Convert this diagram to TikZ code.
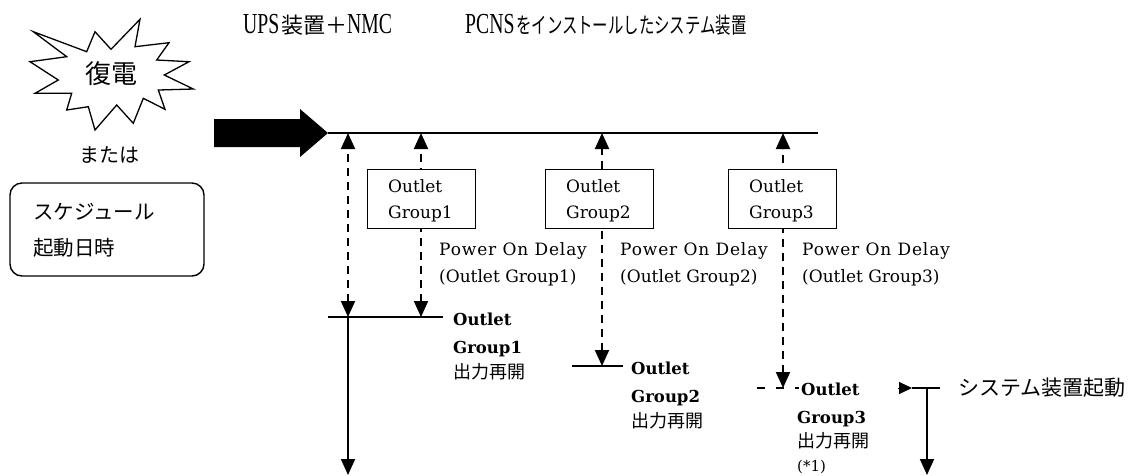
\documentclass[tikz,border=0pt]{standalone}
\usepackage{fontspec}
\usepackage{graphicx}
\setmainfont{DejaVu Serif}
\newfontfamily\jp{Noto Sans CJK JP}
\newfontfamily\ttl{Liberation Serif}
\newfontfamily\spaced{DejaVu Serif}[LetterSpace=5]
\usetikzlibrary{arrows.meta}
\begin{document}
\begin{tikzpicture}[x=1pt,y=-1pt,
  >={Triangle[width=14pt,length=16pt]},
  dline/.style={line width=2pt, dash pattern=on 8pt off 6pt},
  sline/.style={line width=1.8pt},
  hline/.style={line width=1.4pt},
  gbox/.style={draw, line width=1.4pt, fill=white, minimum width=108pt, minimum height=59pt, anchor=north west, inner sep=0pt},
  txt/.style={inner sep=0pt, anchor=base west},
  boxtxt/.style={txt, font=\fontsize{17}{20}\selectfont},
  delaytxt/.style={txt, font=\fontsize{17}{20}\selectfont},
  boldtxt/.style={txt, font=\fontsize{16.5}{18}\selectfont\bfseries},
  jptxt/.style={inner sep=0pt, anchor=west, font=\fontsize{18}{20}\selectfont\jp},
]
\useasboundingbox (0,0) rectangle (1137,475);

% titles
\node[txt] (title1) at (243,33) {\scalebox{0.68}[1]{\fontsize{29}{29}\selectfont\ttl UPS}\,{\fontsize{22}{22}\selectfont\jp 装置＋}\scalebox{0.68}[1]{\fontsize{29}{29}\selectfont\ttl NMC}};
\node[txt] (title2) at (465,33) {\scalebox{0.68}[1]{\fontsize{29}{29}\selectfont\ttl PCNS}\,\scalebox{0.7}[1]{\fontsize{22}{22}\selectfont\jp をインストールしたシステム装置}};

% starburst
\draw[line width=1.3pt, line join=miter, fill=white]
 (33.3,31.7) -- (86.7,51.7) -- (95,31.7) -- (111,49.3) -- (140,19.3) -- (135,46.7)
 -- (169,42.7) -- (156.7,60) -- (189,61.7) -- (164.3,75) -- (193.3,89) -- (158.3,90)
 -- (165,109.3) -- (143.3,98.3) -- (133.3,123.3) -- (116.7,105) -- (95,130) -- (88.3,106.7)
 -- (66.7,110) -- (71.7,93.3) -- (35,93.3) -- (58.3,80) -- (30,61.7) -- (66.7,56.7) -- cycle;
\node[inner sep=0pt, font=\fontsize{26}{28}\selectfont\jp] (fukuden) at (111,74) {復電};
\node[inner sep=0pt, font=\fontsize{20}{22}\selectfont\jp] (mataha) at (109,155) {または};

% schedule box
\draw[line width=1.4pt, rounded corners=12pt] (10,183) rectangle (204,276);
\node[inner sep=0pt, anchor=west, font=\fontsize{20.5}{22}\selectfont\jp] (sched1) at (33,212) {スケジュール};
\node[inner sep=0pt, anchor=west, font=\fontsize{20.5}{22}\selectfont\jp] (sched2) at (33,248) {起動日時};

% big arrow
\fill (214,119) -- (300,119) -- (300,109) -- (328,133) -- (300,157) -- (300,147) -- (214,147) -- cycle;
\coordinate (lineS) at (328,133);
\coordinate (lineE) at (818,133);
\draw[hline] (lineS) -- (lineE);

% coordinates
\coordinate (t0) at (348,133);
\coordinate (t1) at (421,133);
\coordinate (t2) at (602,133);
\coordinate (t3) at (783,133);
\coordinate (b0) at (348,317);
\coordinate (b1) at (421,317);
\coordinate (b2) at (602,366);
\coordinate (b3) at (783,388);
\coordinate (e0) at (348,475);

% dashed delay arrows
\draw[dline,<->] (b0) -- (t0);
\draw[dline,<->] (b1) -- (t1);
\draw[dline,<->] (b2) -- (t2);
\draw[dline,<->] (b3) -- (t3);

% outlet group boxes
\node[gbox] (g1) at (367,169) {};
\node[gbox] (g2) at (545,169) {};
\node[gbox] (g3) at (728,169) {};
\node[boxtxt] (g1a) at (388,192) {Outlet};
\node[boxtxt] (g1b) at (388,218) {Group1};
\node[boxtxt] (g2a) at (566,192) {Outlet};
\node[boxtxt] (g2b) at (566,218) {Group2};
\node[boxtxt] (g3a) at (749,192) {Outlet};
\node[boxtxt] (g3b) at (749,218) {Group3};

% delay labels
\node[delaytxt] (d1a) at (439,255) {\spaced Power On Delay};
\node[delaytxt] (d1b) at (439,282) {(Outlet Group1)};
\node[delaytxt] (d2a) at (620,255) {\spaced Power On Delay};
\node[delaytxt] (d2b) at (620,282) {(Outlet Group2)};
\node[delaytxt] (d3a) at (802,255) {\spaced Power On Delay};
\node[delaytxt] (d3b) at (802,282) {(Outlet Group3)};

% group 1 restart
\coordinate (h1s) at (328,317);
\coordinate (h1e) at (443,317);
\draw[hline] (h1s) -- (h1e);
\draw[sline,->] (b0) -- (e0);
\node[boldtxt] (r1a) at (453,325) {Outlet};
\node[boldtxt] (r1b) at (453,353) {Group1};
\node[jptxt] (r1c) at (453,372) {出力再開};

% group 2 restart
\coordinate (h2s) at (572,366);
\coordinate (h2e) at (623,366);
\draw[hline] (h2s) -- (h2e);
\node[boldtxt] (r2a) at (631,374) {Outlet};
\node[boldtxt] (r2b) at (631,402) {Group2};
\node[jptxt] (r2c) at (631,421) {出力再開};

% group 3 restart
\coordinate (h3s) at (757,388);
\coordinate (h3e) at (799,388);
\draw[line width=1.4pt, dash pattern=on 8pt off 11pt] (h3s) -- (h3e);
\node[boldtxt] (r3a) at (801,395) {Outlet};
\node[boldtxt] (r3b) at (797,423) {Group3};
\node[jptxt] (r3c) at (797,441) {出力再開};
\node[txt, font=\fontsize{15}{18}\selectfont] (r3d) at (797,471) {(*1)};

% system start
\coordinate (s0) at (898,388);
\coordinate (s1) at (912,388);
\coordinate (s2) at (940,388);
\coordinate (s3) at (927,388);
\coordinate (s4) at (927,475);
\draw[line width=1pt, -{Triangle[width=12pt,length=13pt]}] (s0) -- (s1);
\draw[hline] (s1) -- (s2);
\draw[sline,->] (s3) -- (s4);
\node[inner sep=0pt, anchor=west, font=\fontsize{21}{24}\selectfont\jp] (sys) at (958,388) {システム装置起動};
\end{tikzpicture}
\end{document}
